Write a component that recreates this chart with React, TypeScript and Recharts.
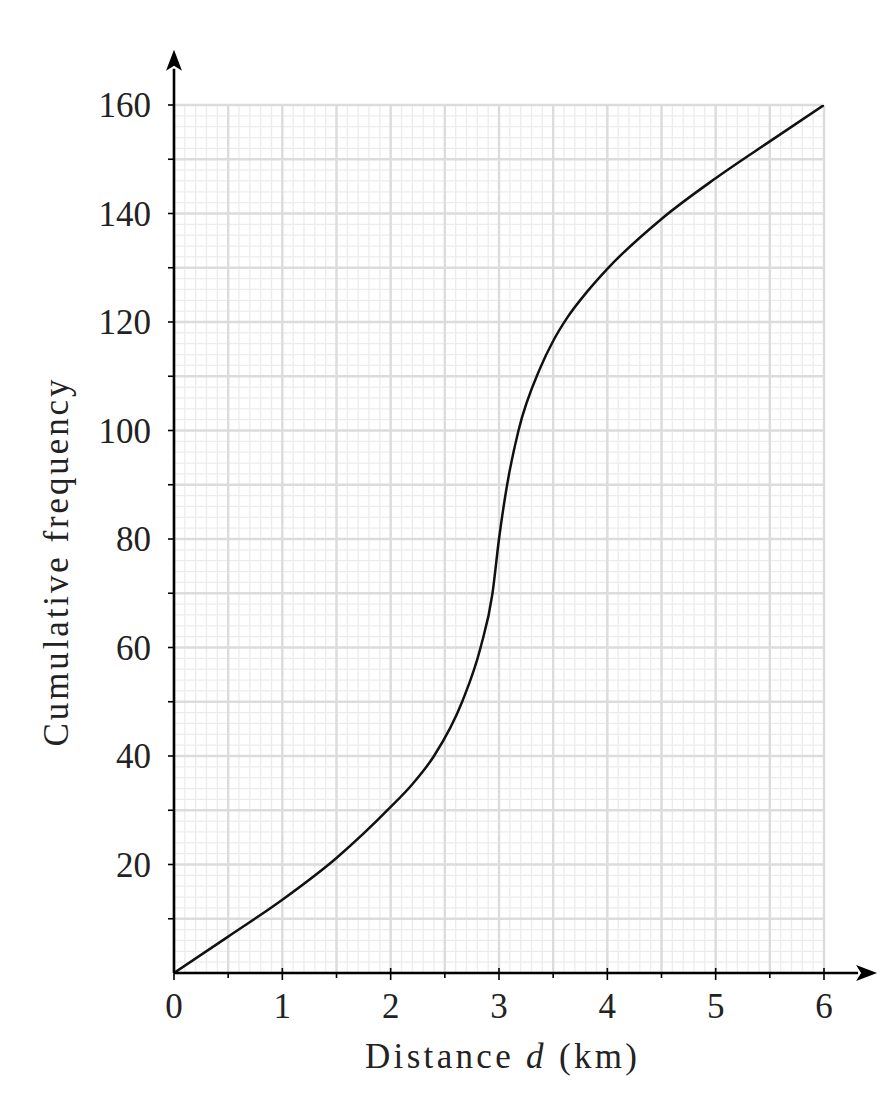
import { LineChart, Line, XAxis, YAxis, CartesianGrid, ReferenceLine } from 'recharts';

// distance d (km) and cumulative frequency
const distance = [0, 0.5, 1, 1.5, 2, 2.2, 2.4, 2.66, 2.83, 2.94, 3.0, 3.075, 3.18, 3.38, 3.5, 3.63, 3.81, 4, 4.5, 5, 5.5, 6];
const cumFreq = [0, 6.7, 13.5, 21.2, 30.6, 34.8, 40, 50, 60, 70, 80, 90, 100, 111.5, 116.5, 120.8, 125.5, 129.8, 139, 146.5, 153.3, 160];

const xTicks = [0, 0.5, 1, 1.5, 2, 2.5, 3, 3.5, 4, 4.5, 5, 5.5, 6];
const yTicks = [10, 20, 30, 40, 50, 60, 70, 80, 90, 100, 110, 120, 130, 140, 150, 160];
const majorY = [0, ...yTicks];
const minorX = Array.from({ length: 61 }, (_, i) => i / 10);
const minorY = Array.from({ length: 81 }, (_, i) => i * 2);

const data = distance.map((d, i) => ({ d, cf: cumFreq[i] }));

const textStyle = { fontFamily: 'Liberation Serif', fontSize: 35 };

const XTick = ({ x, y, payload }: any) => {
  const v = payload.value;
  const major = Number.isInteger(v);
  return (
    <g>
      <line x1={x} x2={x} y1={major ? y - 5 : y} y2={y + (major ? 7 : 5)} stroke="#000" strokeWidth={1.6} />
      {major && (
        <text x={x} y={y + 45} textAnchor="middle" style={textStyle} fill="#222">
          {v}
        </text>
      )}
    </g>
  );
};

const YTick = ({ x, y, payload }: any) => {
  const v = payload.value;
  return (
    <g>
      <line x1={x - 6} x2={x} y1={y} y2={y} stroke="#000" strokeWidth={1.6} />
      {v % 20 === 0 && (
        <text x={x - 23} y={y + 12} textAnchor="end" style={textStyle} fill="#222">
          {v}
        </text>
      )}
    </g>
  );
};

const Arrow = (props: any) => {
  const { x1, y1, x2, y2 } = props;
  const len = Math.hypot(x2 - x1, y2 - y1);
  const ux = (x2 - x1) / len;
  const uy = (y2 - y1) / len;
  const head = 21;
  const half = 8;
  const bx = x2 - ux * head;
  const by = y2 - uy * head;
  return (
    <g>
      <line x1={x1} y1={y1} x2={bx + ux * 2} y2={by + uy * 2} stroke="#000" strokeWidth={2.6} />
      <polygon
        points={`${x2},${y2} ${bx - uy * half},${by + ux * half} ${bx + ux * 5},${by + uy * 5} ${bx + uy * half},${by - ux * half}`}
        fill="#000"
      />
    </g>
  );
};

export default function App() {
  return (
    <div style={{ width: 880, height: 1080, fontFamily: 'Liberation Serif' }}>
      <LineChart width={880} height={1080} data={data} margin={{ top: 97, right: 64, bottom: 55, left: 86 }}>
        <CartesianGrid
          stroke="#ececec"
          strokeWidth={1.3}
          verticalValues={minorX}
          horizontalValues={minorY}
        />
        <CartesianGrid
          stroke="#dcdcdc"
          strokeWidth={2.4}
          verticalValues={xTicks}
          horizontalValues={majorY}
        />
        <XAxis
          type="number"
          dataKey="d"
          domain={[0, 6]}
          ticks={xTicks}
          interval={0}
          allowDataOverflow
          axisLine={false}
          tickLine={false}
          tickSize={0}
          tickMargin={0}
          height={60}
          tick={<XTick />}
          label={{
            content: ({ viewBox }: any) => (
              <text
                x={viewBox.x + viewBox.width / 2 + 2}
                y={viewBox.y + 95}
                textAnchor="middle"
                style={textStyle}
                fill="#222"
                textLength={272}
                lengthAdjust="spacing"
              >
                Distance <tspan fontStyle="italic">d</tspan> (km)
              </text>
            ),
          }}
        />
        <YAxis
          type="number"
          domain={[0, 160]}
          ticks={yTicks}
          interval={0}
          allowDataOverflow
          axisLine={false}
          tickLine={false}
          tickSize={0}
          tickMargin={0}
          width={80}
          tick={<YTick />}
          label={{
            content: () => (
              <text
                x={60}
                y={555}
                transform="rotate(-90 60 555)"
                textAnchor="middle"
                style={textStyle}
                fill="#222"
                textLength={367}
                lengthAdjust="spacing"
              >
                Cumulative frequency
              </text>
            ),
          }}
        />
        <Line
          type="monotone"
          dataKey="cf"
          stroke="#111"
          strokeWidth={2.5}
          dot={false}
          activeDot={false}
          isAnimationActive={false}
        />
        <ReferenceLine
          segment={[{ x: 0, y: 0 }, { x: 6.49, y: 0 }]}
          ifOverflow="visible"
          shape={<Arrow />}
        />
        <ReferenceLine
          segment={[{ x: 0, y: 0 }, { x: 0, y: 170.2 }]}
          ifOverflow="visible"
          shape={<Arrow />}
        />
      </LineChart>
    </div>
  );
}
